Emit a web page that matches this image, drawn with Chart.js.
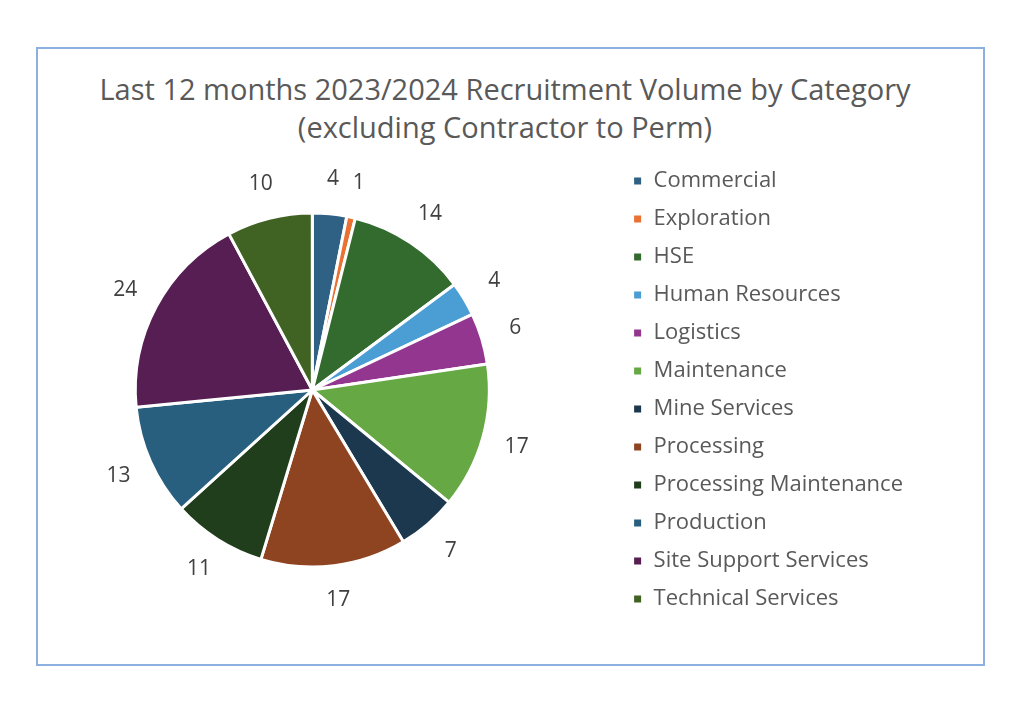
<!DOCTYPE html>
<html lang="en">
<head>
  <meta charset="UTF-8" />
  <title>Recruitment Volume by Category</title>
  <script src="https://cdn.jsdelivr.net/npm/chart.js"></script>
  <style>
    html, body {
      margin: 0;
      padding: 0;
      background: #fff;
      width: 1024px;
      height: 723px;
      overflow: hidden;
      font-family: "Open Sans", Arial, sans-serif;
    }
    .frame {
      position: absolute;
      left: 36px;
      top: 47px;
      width: 945px;
      height: 615px;
      border: 2px solid #8cb0e0;
    }
    .title {
      position: absolute;
      left: 0;
      top: 70px;
      width: 1010px;
      text-align: center;
      color: #595959;
      font-size: 29px;
      line-height: 38px;
    }
    #chart {
      position: absolute;
      left: 0;
      top: 0;
    }
  </style>
</head>
<body>
  <div class="frame"></div>
  <div class="title">Last 12 months 2023/2024 Recruitment Volume by Category<br>(excluding Contractor to Perm)</div>
  <canvas id="chart" width="1024" height="723"></canvas>

<script>
  const categorias = [
    'Commercial', 'Exploration', 'HSE', 'Human Resources', 'Logistics', 'Maintenance',
    'Mine Services', 'Processing', 'Processing Maintenance', 'Production',
    'Site Support Services', 'Technical Services'
  ];
  const volumes = [4, 1, 14, 4, 6, 17, 7, 17, 11, 13, 24, 10];
  const cores = [
    '#2e6183', '#e97132', '#336b2e', '#4a9ed3', '#93368f', '#66a844',
    '#1b384e', '#8e4420', '#203d1c', '#285e7e', '#561e52', '#406324'
  ];

  // rótulos de valor fora das fatias
  const rotulosFora = {
    id: 'rotulosFora',
    afterDatasetsDraw(chart) {
      const ctx = chart.ctx;
      const meta = chart.getDatasetMeta(0);
      ctx.save();
      ctx.font = '21px "Open Sans", Arial, sans-serif';
      ctx.fillStyle = '#404040';
      ctx.textAlign = 'center';
      ctx.textBaseline = 'middle';
      meta.data.forEach((arc, i) => {
        const p = arc.getProps(['x', 'y', 'startAngle', 'endAngle', 'outerRadius'], true);
        const meio = (p.startAngle + p.endAngle) / 2;
        const r = p.outerRadius + 35;
        ctx.fillText(String(volumes[i]), p.x + Math.cos(meio) * r, p.y + Math.sin(meio) * r);
      });
      ctx.restore();
    }
  };

  new Chart(document.getElementById('chart'), {
    type: 'pie',
    data: {
      labels: categorias,
      datasets: [{
        data: volumes,
        backgroundColor: cores,
        borderColor: '#ffffff',
        borderWidth: 3
      }]
    },
    options: {
      responsive: false,
      animation: false,
      radius: 177,
      layout: {
        padding: { left: 8, right: 111, top: 150, bottom: 93 }
      },
      plugins: {
        title: { display: false },
        tooltip: { enabled: false },
        legend: {
          position: 'right',
          labels: {
            boxWidth: 10,
            boxHeight: 10,
            padding: 16,
            color: '#595959',
            font: { size: 22, family: '"Open Sans", Arial, sans-serif' }
          }
        }
      }
    },
    plugins: [rotulosFora]
  });
</script>
</body>
</html>
